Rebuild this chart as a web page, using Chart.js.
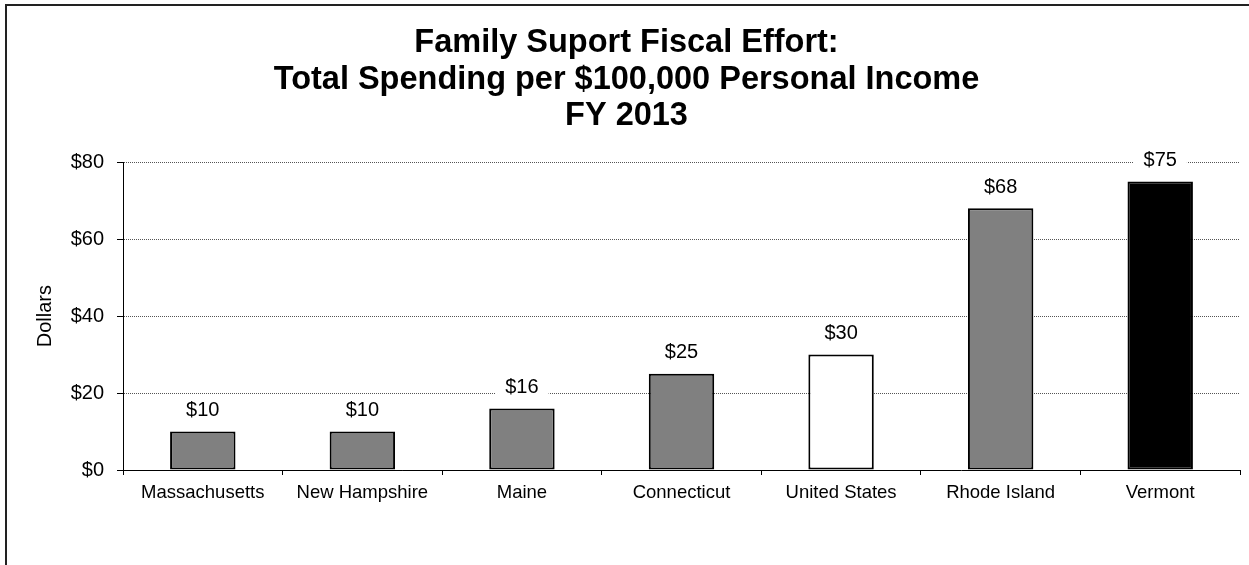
<!DOCTYPE html>
<html>
<head>
<meta charset="utf-8">
<script src="https://cdn.jsdelivr.net/npm/chart.js@4"></script>
<style>
  html, body { margin: 0; padding: 0; background: #fff; }
  #wrap { width: 1249px; height: 565px; position: relative; }
</style>
</head>
<body>
<div id="wrap"><canvas id="effortChart"></canvas></div>
<script>
const states = ['Massachusetts', 'New Hampshire', 'Maine', 'Connecticut', 'United States', 'Rhode Island', 'Vermont'];
const spending = [10, 10, 16, 25, 30, 68, 75];
const barColors = ['#808080', '#808080', '#808080', '#808080', '#ffffff', '#808080', '#000000'];
const yTicks = [0, 20, 40, 60, 80];
const titleLines = ['Family Suport Fiscal Effort:', 'Total Spending per $100,000 Personal Income', 'FY 2013'];

const FONT = 'Arial, "Liberation Sans", sans-serif';

// frame line on top and left, like the pasted spreadsheet chart
const framePlugin = {
    id: 'frame',
    beforeDraw(chart) {
        const c = chart.ctx;
        c.save();
        c.fillStyle = '#fff';
        c.fillRect(0, 0, chart.width, chart.height);
        c.fillStyle = '#222';
        c.fillRect(5, 4, chart.width - 5, 2);
        c.fillRect(5, 4, 2, chart.height - 4);
        c.restore();
    }
};

// "$xx" above each bar on a white box
const valueLabels = {
    id: 'valueLabels',
    afterDatasetsDraw(chart) {
        const c = chart.ctx;
        const meta = chart.getDatasetMeta(0);
        c.save();
        c.font = '20px ' + FONT;
        c.textAlign = 'center';
        c.textBaseline = 'middle';
        meta.data.forEach((bar, i) => {
            const txt = '$' + spending[i];
            const w = c.measureText(txt).width;
            const y = bar.y - 22;
            c.fillStyle = '#fff';
            c.fillRect(bar.x - w / 2 - 10, y - 11, w + 20, 22);
            c.fillStyle = '#000';
            c.fillText(txt, bar.x, y + 1);
        });
        c.restore();
    }
};

const ctx = document.getElementById('effortChart');
new Chart(ctx, {
    type: 'bar',
    data: {
        labels: states,
        datasets: [{
            data: spending,
            backgroundColor: barColors,
            borderColor: '#000',
            borderWidth: 2,
            borderSkipped: false,
            barPercentage: 0.41,
            categoryPercentage: 1
        }]
    },
    options: {
        responsive: true,
        maintainAspectRatio: false,
        animation: false,
        layout: {padding: {left: 13, right: 9, top: 0, bottom: 0}},
        scales: {
            x: {
                afterFit: (s) => { s.height = 95; },
                grid: {offset: true, drawOnChartArea: false, tickLength: 5, tickColor: '#000'},
                border: {color: '#000', width: 1},
                ticks: {color: '#000', padding: 7, maxRotation: 0, font: {family: FONT, size: 18.5}}
            },
            y: {
                min: 0,
                max: 80,
                afterFit: (s) => { s.width = 110; },
                afterBuildTicks: (s) => { s.ticks = yTicks.map(v => ({value: v})); },
                grid: {color: '#555', tickBorderDash: [], tickColor: '#000', tickLength: 6},
                border: {color: '#000', width: 1, dash: [1, 1]},
                ticks: {
                    color: '#000',
                    padding: 13,
                    font: {family: FONT, size: 20},
                    callback: (v) => '$' + v
                },
                title: {
                    display: true,
                    text: 'Dollars',
                    color: '#000',
                    padding: {top: 20, bottom: 0},
                    font: {family: FONT, size: 20}
                }
            }
        },
        plugins: {
            legend: {display: false},
            tooltip: {enabled: false},
            title: {
                display: true,
                text: titleLines,
                color: '#000',
                padding: {top: 25, bottom: 28},
                font: {family: FONT, size: 32.5, weight: 'bold', lineHeight: 1.12}
            }
        }
    },
    plugins: [framePlugin, valueLabels]
});
</script>
</body>
</html>
